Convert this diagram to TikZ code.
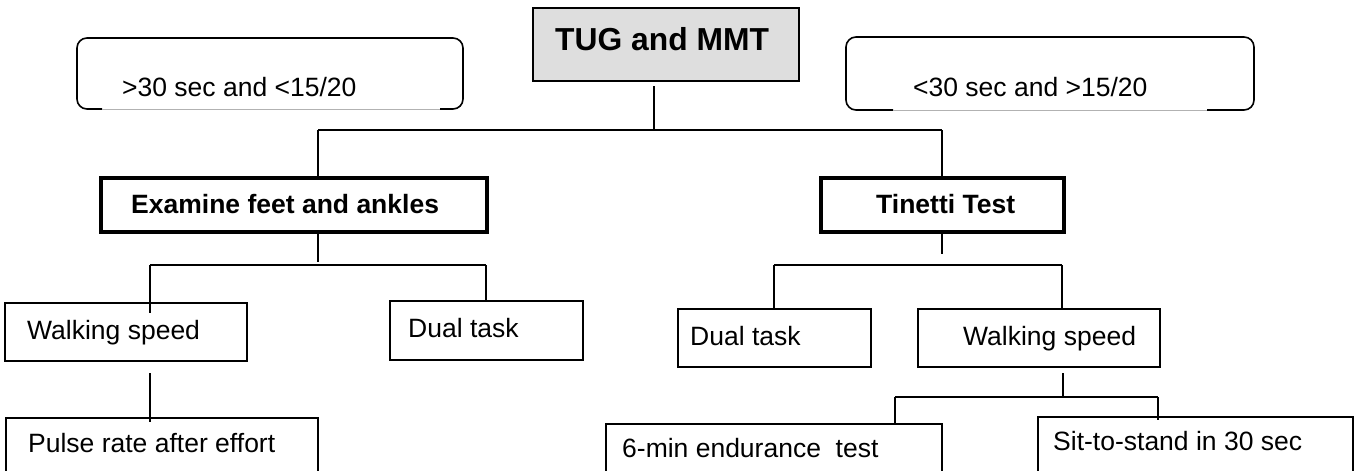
\documentclass[tikz,border=0pt]{standalone}
\usepackage{fontspec}
\setmainfont{Liberation Sans}
\usetikzlibrary{fit}
\begin{document}
\begin{tikzpicture}[x=1pt,y=-1pt,
  box/.style={draw, line width=1.6pt, inner sep=0pt},
  heavybox/.style={draw, line width=3.5pt, inner sep=0pt},
  txt/.style={anchor=base west, inner sep=0pt, font=\fontsize{26.5}{30}\selectfont},
  btxt/.style={anchor=base west, inner sep=0pt, font=\fontsize{26.5}{30}\selectfont\bfseries},
  conn/.style={line width=1.6pt},
  bracket/.style={line width=1.6pt, rounded corners=10pt},
  gapline/.style={line width=0.6pt, black!30}]
\useasboundingbox (0,0) rectangle (1355,471);
\clip (0,0) rectangle (1355,471);

% top box
\node[box, fill=black!13, fit={(533,8) (799,81)}] (tug) {};
\node[anchor=base west, inner sep=0pt, font=\fontsize{31.8}{36}\selectfont\bfseries] (tugt) at (555,50) {TUG and MMT};

% condition brackets
\node[txt] (condl) at (122,96) {>30 sec and <15/20};
\draw[bracket] (102,109) -- (77,109) -- (77,38) -- (463,38) -- (463,109) -- (440,109);
\draw[gapline] (102,109) -- (440,109);
\node[txt] (condr) at (913,96) {<30 sec and >15/20};
\draw[bracket] (893,110) -- (846,110) -- (846,37) -- (1254,37) -- (1254,110) -- (1207,110);
\draw[gapline] (893,110) -- (1207,110);

% second level
\node[heavybox, fit={(101,178) (487,232)}] (exam) {};
\node[btxt] (examt) at (131,213) {Examine feet and ankles};
\node[heavybox, fit={(821,178) (1064,232)}] (tin) {};
\node[btxt] (tint) at (876,213) {Tinetti Test};

\coordinate (s1) at (654,86);
\coordinate (b1) at (654,130);
\coordinate (b1l) at (318,130);
\coordinate (b1r) at (942,130);
\draw[conn] (s1) -- (b1);
\draw[conn] (b1l) -- (b1r);
\draw[conn] (b1l) -- (exam.north -| b1l);
\draw[conn] (b1r) -- (tin.north -| b1r);

% left branch
\node[box, fit={(5,303) (247,361)}] (lwalk) {};
\node[txt] (lwalkt) at (27,339) {Walking speed};
\node[box, fit={(390,301) (583,360)}] (ldual) {};
\node[txt] (ldualt) at (408,337) {Dual task};
\coordinate (s2) at (318,262);
\coordinate (b2) at (318,265);
\coordinate (b2l) at (150,265);
\coordinate (b2r) at (486,265);
\draw[conn] (exam.south -| s2) -- (s2);
\draw[conn] (b2l) -- (b2r);
\draw[conn] (b2l) -- (150,313);
\draw[conn] (b2r) -- (ldual.north -| b2r);

\node[box, fit={(6,418) (318,471.6)}] (pulse) {};
\node[txt] (pulset) at (28,452) {Pulse rate after effort};
\coordinate (s3) at (150,373);
\draw[conn] (s3) -- (150,422);

% right branch
\node[box, fit={(678,309) (871,367)}] (rdual) {};
\node[txt] (rdualt) at (690,345) {Dual task};
\node[box, fit={(918,309) (1160,367)}] (rwalk) {};
\node[txt] (rwalkt) at (963,345) {Walking speed};
\coordinate (s4) at (942,254);
\coordinate (b4l) at (774,265);
\coordinate (b4r) at (1062,265);
\draw[conn] (tin.south -| s4) -- (s4);
\draw[conn] (b4l) -- (b4r);
\draw[conn] (b4l) -- (rdual.north -| b4l);
\draw[conn] (b4r) -- (rwalk.north -| b4r);

\node[box, fit={(606,424) (942,471.6)}] (endur) {};
\node[txt] (endurt) at (622,457) {6-min endurance\ \ test};
\node[box, fit={(1038,417) (1353,471.6)}] (sit) {};
\node[txt] (sitt) at (1053,450) {Sit-to-stand in 30 sec};
\coordinate (s5) at (1063,373);
\coordinate (b5) at (1063,398);
\coordinate (b5l) at (895,397);
\coordinate (b5r) at (1158,397);
\draw[conn] (s5) -- (b5);
\draw[conn] (b5l) -- (b5r);
\draw[conn] (b5l) -- (endur.north -| b5l);
\draw[conn] (b5r) -- (1158,420);
\end{tikzpicture}
\end{document}
